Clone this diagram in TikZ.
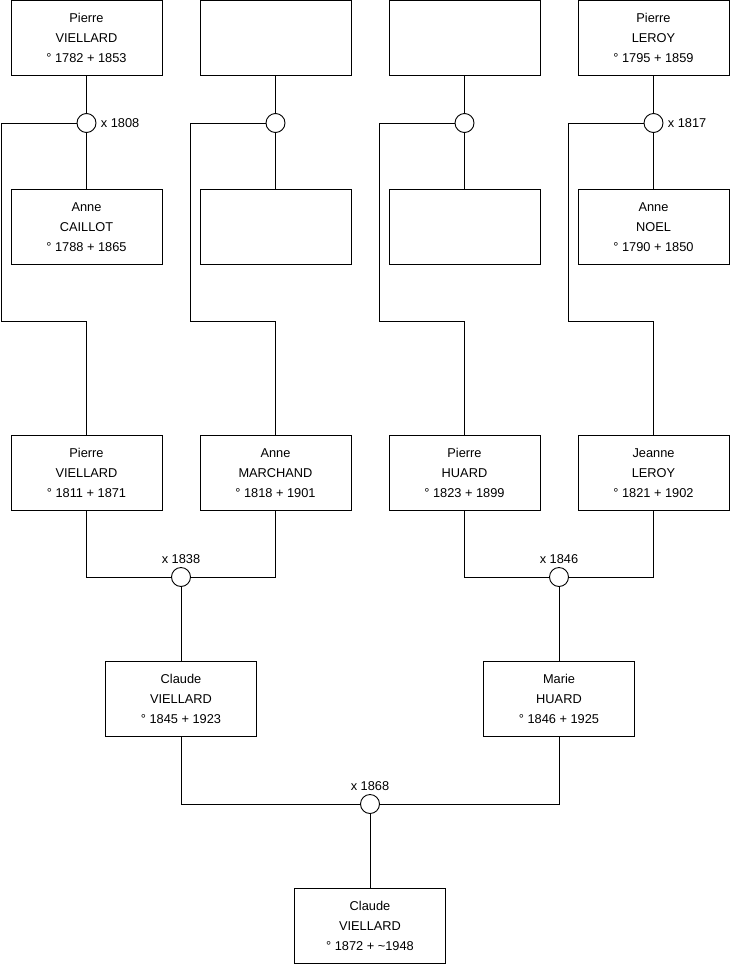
\documentclass[tikz,border=0pt]{standalone}
\usepackage{fontspec}
\setmainfont{Liberation Sans}
\usetikzlibrary{positioning}
\tikzset{person/.style = {draw, rectangle, minimum width=151, minimum height=75,
                          inner sep=0, align=center,
                          font=\fontsize{12.8}{20}\selectfont}}
\tikzset{wed/.style = {draw, circle, fill=white, minimum size=19, inner sep=0}}
\tikzset{year/.style = {inner sep=1pt, font=\fontsize{12.8}{14}\selectfont}}
\tikzset{every picture/.style={
    every path/.style={line width=0.9pt},
}}

\begin{document}
\begin{tikzpicture}[x=1pt, y=-1pt]

      \useasboundingbox (0,0) rectangle (740,975);

      % great-grandparents
      \node[person] (pv) at (86.5,38)  {Pierre\\VIELLARD\\° 1782 + 1853};
      \node[person] (xa) at (275.5,38) {};
      \node[person] (xb) at (464.5,38) {};
      \node[person] (pl) at (653.5,38) {Pierre\\LEROY\\° 1795 + 1859};

      \node[person] (ac) at (86.5,227)  {Anne\\CAILLOT\\° 1788 + 1865};
      \node[person] (ya) at (275.5,227) {};
      \node[person] (yb) at (464.5,227) {};
      \node[person] (an) at (653.5,227) {Anne\\NOEL\\° 1790 + 1850};

      \node[wed] (w1) at (86.5,123)  {};
      \node[wed] (w2) at (275.5,123) {};
      \node[wed] (w3) at (464.5,123) {};
      \node[wed] (w4) at (653.5,123) {};
      \node[year, right=3pt of w1] (l1) {x 1808};
      \node[year, right=3pt of w4] (l4) {x 1817};

      % grandparents
      \node[person] (pv2) at (86.5,473)  {Pierre\\VIELLARD\\° 1811 + 1871};
      \node[person] (am)  at (275.5,473) {Anne\\MARCHAND\\° 1818 + 1901};
      \node[person] (ph)  at (464.5,473) {Pierre\\HUARD\\° 1823 + 1899};
      \node[person] (jl)  at (653.5,473) {Jeanne\\LEROY\\° 1821 + 1902};

      \node[wed] (w5) at (181,577) {};
      \node[wed] (w6) at (559,577) {};
      \node[year, above=2pt of w5] (l5) {x 1838};
      \node[year, above=2pt of w6] (l6) {x 1846};

      % parents
      \node[person] (cv) at (181,699) {Claude\\VIELLARD\\° 1845 + 1923};
      \node[person] (mh) at (559,699) {Marie\\HUARD\\° 1846 + 1925};

      \node[wed] (w7) at (370,804) {};
      \node[year, above=2pt of w7] (l7) {x 1868};

      \node[person] (cv2) at (370,926) {Claude\\VIELLARD\\° 1872 + \textasciitilde1948};

      % couples
      \draw (pv) -- (w1) -- (ac);
      \draw (xa) -- (w2) -- (ya);
      \draw (xb) -- (w3) -- (yb);
      \draw (pl) -- (w4) -- (an);

      % children of the first row
      \coordinate (k1) at (1,321);
      \coordinate (k2) at (190,321);
      \coordinate (k3) at (379,321);
      \coordinate (k4) at (568,321);
      \draw (w1.west) -| (k1) -| (pv2.north);
      \draw (w2.west) -| (k2) -| (am.north);
      \draw (w3.west) -| (k3) -| (ph.north);
      \draw (w4.west) -| (k4) -| (jl.north);

      \draw (pv2.south) |- (w5.west);
      \draw (am.south)  |- (w5.east);
      \draw (ph.south)  |- (w6.west);
      \draw (jl.south)  |- (w6.east);
      \draw (w5) -- (cv);
      \draw (w6) -- (mh);

      \draw (cv.south) |- (w7.west);
      \draw (mh.south) |- (w7.east);
      \draw (w7) -- (cv2);

\end{tikzpicture}
\end{document}
